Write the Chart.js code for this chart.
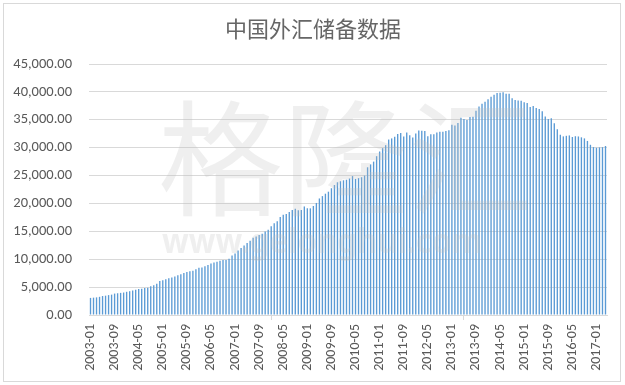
<!DOCTYPE html>
<html>
<head>
<meta charset="utf-8">
<script src="https://cdn.jsdelivr.net/npm/chart.js@4/dist/chart.umd.min.js"></script>
<style>
  html, body { margin: 0; padding: 0; background: #fff; }
  #wrap { width: 625px; height: 385px; }
</style>
</head>
<body>
<div id="wrap"><canvas id="reserveChart" width="625" height="385"></canvas></div>
<script>
// 中国外汇储备 (亿美元), monthly 2003-01 .. 2017-04
const years = [2003, 2004, 2005, 2006, 2007, 2008, 2009, 2010, 2011, 2012, 2013, 2014, 2015, 2016, 2017];

const reserves2003 = [3066, 3112, 3160, 3260, 3400, 3465, 3566, 3650, 3839, 3899, 3967, 4033];
const reserves2004 = [4160, 4264, 4397, 4512, 4653, 4706, 4834, 4891, 5146, 5355, 5600, 6099];
const reserves2005 = [6235, 6425, 6591, 6707, 6910, 7110, 7327, 7533, 7690, 7859, 7949, 8189];
const reserves2006 = [8451, 8536, 8751, 8950, 9250, 9411, 9545, 9720, 9879, 9873, 10096, 10663];
const reserves2007 = [11046, 11580, 12020, 12466, 12926, 13326, 13852, 14086, 14336, 14550, 14970, 15282];
const reserves2008 = [15898, 16471, 16822, 17566, 17969, 18088, 18452, 18841, 19056, 18797, 18845, 19460];
const reserves2009 = [19135, 19121, 19537, 20089, 20894, 21316, 21746, 22108, 22726, 23300, 23800, 23992];
const reserves2010 = [24153, 24246, 24471, 24905, 24395, 24543, 24700, 25000, 26483, 27000, 27500, 28473];
const reserves2011 = [29316, 29914, 30447, 31457, 31660, 31975, 32452, 32625, 32017, 32738, 32209, 31811];
const reserves2012 = [32536, 33096, 33050, 32989, 32061, 32400, 32400, 32729, 32850, 32870, 32980, 33116];
const reserves2013 = [34100, 33954, 34426, 35345, 35148, 34967, 35478, 35530, 36627, 37366, 37895, 38213];
const reserves2014 = [38666, 39137, 39481, 39788, 39838, 39932, 39662, 39688, 38877, 38529, 38473, 38430];
const reserves2015 = [38134, 38015, 37301, 37481, 37111, 36938, 36513, 35574, 35141, 35255, 34383, 33304];
const reserves2016 = [32309, 32023, 32126, 32197, 31917, 32052, 32011, 31852, 31664, 31207, 30516, 30105];
const reserves2017 = [29982, 30051, 30091, 30295];

const yTicks = [0, 5000, 10000, 15000, 20000, 25000, 30000, 35000, 40000, 45000];

const values = [].concat(reserves2003, reserves2004, reserves2005, reserves2006, reserves2007,
  reserves2008, reserves2009, reserves2010, reserves2011, reserves2012, reserves2013,
  reserves2014, reserves2015, reserves2016, reserves2017);

const labels = [];
years.forEach(y => {
  for (let m = 1; m <= 12; m++) {
    if (labels.length < values.length) labels.push(y + '-' + String(m).padStart(2, '0'));
  }
});

const axisFont = 'Calibri, Carlito, "Liberation Sans", sans-serif';

const frameAndTitle = {
  id: 'frameAndTitle',
  beforeDraw(chart) {
    const c = chart.ctx;
    c.save();
    c.fillStyle = '#fff';
    c.fillRect(0, 0, chart.width, chart.height);
    c.strokeStyle = '#d9d9d9';
    c.lineWidth = 1;
    c.strokeRect(3.5, 3.5, 617, 378);
    c.fillStyle = '#666';
    c.font = '22px "Noto Sans CJK SC", sans-serif';
    c.textAlign = 'center';
    c.textBaseline = 'middle';
    c.fillText('中国外汇储备数据', 313, 29);
    c.restore();
  },
  afterDatasetsDraw(chart) {
    // faint site watermark
    const c = chart.ctx;
    c.save();
    c.fillStyle = 'rgba(190,190,190,0.25)';
    c.textBaseline = 'middle';
    c.font = '125px "Noto Sans CJK SC", sans-serif';
    c.fillText('格隆汇', 158, 158);
    c.font = 'bold 34px "Noto Sans", sans-serif';
    const w = c.measureText('www.gelonghui.com').width;
    c.translate(162, 243);
    c.scale(320 / w, 1);
    c.fillText('www.gelonghui.com', 0, 0);
    c.restore();
  }
};

new Chart(document.getElementById('reserveChart'), {
  type: 'bar',
  data: {
    labels: labels,
    datasets: [{
      label: '外汇储备',
      data: values,
      backgroundColor: '#5b9bd5',
      barPercentage: 0.45,
      categoryPercentage: 1.0
    }]
  },
  options: {
    responsive: false,
    animation: false,
    layout: { padding: { top: 64, right: 18, bottom: 0, left: 0 } },
    plugins: { legend: { display: false }, tooltip: { enabled: false } },
    scales: {
      x: {
        grid: {
          drawOnChartArea: false,
          tickLength: 5,
          color: ctx => (ctx.index % 8 === 0 ? '#d9d9d9' : 'rgba(0,0,0,0)')
        },
        border: { color: '#d9d9d9' },
        afterFit(scale) { scale.height = 70; },
        ticks: {
          autoSkip: false,
          maxRotation: 90,
          minRotation: 90,
          padding: 4,
          color: '#595959',
          font: { family: axisFont, size: 14 },
          callback(v, i) { return i % 8 === 0 ? labels[i] : null; }
        }
      },
      y: {
        min: 0,
        max: 45000,
        afterFit(scale) { scale.width = 89; },
        afterBuildTicks(scale) { scale.ticks = yTicks.map(v => ({ value: v })); },
        grid: { color: '#d9d9d9', drawTicks: false },
        border: { display: false },
        ticks: {
          padding: 17,
          color: '#595959',
          font: { family: axisFont, size: 14.5 },
          callback(v) {
            return v.toLocaleString('en-US', { minimumFractionDigits: 2, maximumFractionDigits: 2 });
          }
        }
      }
    }
  },
  plugins: [frameAndTitle]
});
</script>
</body>
</html>
